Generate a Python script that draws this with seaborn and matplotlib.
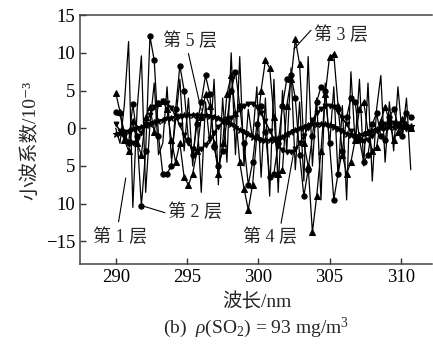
import matplotlib
matplotlib.use("Agg")
import matplotlib.pyplot as plt
import seaborn as sns

# wavelength grid (nm)
wavelength = [290.0, 290.3, 290.6, 290.9, 291.2, 291.5, 291.8, 292.1, 292.4, 292.7,
              293.0, 293.3, 293.6, 293.9, 294.2, 294.5, 294.8, 295.1, 295.4, 295.7,
              296.0, 296.3, 296.6, 296.9, 297.2, 297.5, 297.8, 298.1, 298.4, 298.7,
              299.0, 299.3, 299.6, 299.9, 300.2, 300.5, 300.8, 301.1, 301.4, 301.7,
              302.0, 302.3, 302.6, 302.9, 303.2, 303.5, 303.8, 304.1, 304.4, 304.7,
              305.0, 305.3, 305.6, 305.9, 306.2, 306.5, 306.8, 307.1, 307.4, 307.7,
              308.0, 308.3, 308.6, 308.9, 309.2, 309.5, 309.8, 310.1, 310.4, 310.7]

layer1 = [0.0, -2.0, 3.0, 11.5, -10.5, 2.5, 9.6, -8.5, 0.5, 6.0,
          -3.5, -2.0, 5.5, -4.0, 1.0, 6.5, -3.0, 4.0, -5.0, 2.0,
          -8.5, 3.5, -2.0, 6.5, -7.5, 4.0, -4.5, 10.0, -3.5, 9.5,
          -5.0, 2.5, -1.5, 5.5, -6.5, 4.0, -9.0, 6.5, -8.5, 5.0,
          -3.0, 8.0, -5.5, 3.5, -7.0, 9.5, -5.0, 4.0, -9.5, 6.0,
          -2.5, 5.5, -6.5, 3.0, -9.5, 7.5, -2.0, 6.5, -5.0, 6.0,
          -7.0, 2.5, 7.0, -4.5, 3.5, -3.0, 5.5, -1.0, 4.0, -5.5]

layer2 = [2.2, 2.0, -0.5, -2.0, 3.2, -1.0, -10.3, -3.0, 12.2, 9.0,
          -1.0, -6.0, -6.0, -5.0, 2.5, 8.3, 5.0, -1.5, -3.5, 0.5,
          3.5, 7.0, 4.5, -2.5, -5.0, -3.0, 1.0, 5.0, 7.5, 3.0,
          -2.0, -7.5, -4.5, 0.5, 3.0, -0.5, -6.5, -6.0, -2.0, 3.0,
          6.5, 7.0, 4.0, -3.5, -9.0, -5.5, -1.0, 3.5, 5.5, 5.0,
          -2.0, -9.5, -6.0, -3.0, 1.5, 4.0, 3.5, -1.5, -4.5, -3.5,
          0.5, 2.0, -1.0, -1.5, 1.5, 2.5, 0.5, -1.0, 2.0, 1.5]

layer3 = [4.7, 2.2, -1.5, -3.0, 1.0, -2.0, -3.5, 1.5, 2.8, -0.5,
          3.3, 3.6, 2.5, -1.5, -4.5, -2.0, -6.5, -7.5, -6.0, -3.0,
          1.5, 4.5, 3.0, -2.0, -6.0, -2.0, 4.5, 7.0, 2.0, -4.5,
          -8.0, -10.8, -7.5, -1.0, 5.0, 9.0, 8.0, 1.5, -6.0, -5.5,
          3.0, 6.5, 11.8, 8.5, -2.0, -5.0, -13.8, -9.0, -3.0, 4.5,
          9.5, 9.8, 3.0, -3.5, -6.0, -4.5, -1.5, 2.5, 3.5, -0.5,
          -3.0, -2.5, 1.0, 2.8, 1.0, -1.5, -0.5, 1.2, 0.5, 0.0]

layer4 = [0.5, -0.3, -1.2, -1.8, -2.0, -1.6, -0.6, 0.6, 1.8, 2.8,
          3.4, 3.6, 3.4, 2.7, 1.6, 0.4, -0.9, -2.0, -2.7, -3.0,
          -2.8, -2.2, -1.4, -0.6, 0.2, 0.8, 1.2, 1.4, 1.8, 2.4,
          2.9, 3.2, 3.2, 2.8, 2.0, 0.9, -0.3, -1.4, -2.3, -2.9,
          -3.2, -3.2, -2.8, -2.0, -1.0, 0.1, 1.1, 2.0, 2.6, 2.9,
          3.0, 2.8, 2.2, 1.4, 0.5, -0.4, -1.1, -1.6, -1.7, -1.5,
          -1.0, -0.4, 0.2, 0.6, 0.8, 0.7, 0.4, 0.1, -0.1, 0.0]

layer5 = [-0.8, -0.6, -0.5, -0.3, -0.1, 0.0, 0.2, 0.4, 0.6, 0.8,
          1.0, 1.1, 1.3, 1.4, 1.5, 1.6, 1.7, 1.7, 1.8, 1.8,
          1.7, 1.7, 1.6, 1.5, 1.3, 1.1, 0.8, 0.5, 0.2, -0.2,
          -0.5, -0.8, -1.1, -1.3, -1.5, -1.6, -1.6, -1.5, -1.3, -1.1,
          -0.8, -0.5, -0.2, 0.0, 0.2, 0.4, 0.5, 0.6, 0.6, 0.5,
          0.4, 0.2, -0.1, -0.4, -0.7, -0.9, -1.0, -0.9, -0.7, -0.5,
          -0.3, -0.1, 0.0, 0.1, 0.2, 0.2, 0.3, 0.3, 0.3, 0.3]

x_ticks = [290, 295, 300, 305, 310]
y_ticks = [-15, -10, -5, 0, 5, 10, 15]
y_tick_labels = ["\u221215", "10", "5", "0", "5", "10", "15"]

sns.set_style("ticks")
plt.rcParams["font.family"] = ["Liberation Serif", "DejaVu Serif", "Noto Sans CJK SC"]
plt.rcParams["mathtext.fontset"] = "custom"
plt.rcParams["mathtext.rm"] = "Liberation Serif"
plt.rcParams["mathtext.it"] = "Liberation Serif:italic"
plt.rcParams["axes.unicode_minus"] = True

fig = plt.figure(figsize=(4.33, 3.52), dpi=100)
ax = fig.add_axes([0.185, 0.25, 0.813, 0.707])

sns.lineplot(x=wavelength, y=layer1, color="black", lw=0.9, ax=ax)
sns.lineplot(x=wavelength, y=layer2, color="black", lw=0.9, marker="o",
             markersize=3.8, markeredgecolor="black", ax=ax)
sns.lineplot(x=wavelength, y=layer3, color="black", lw=0.9, marker="^",
             markersize=4, markeredgecolor="black", ax=ax)
sns.lineplot(x=wavelength, y=layer4, color="black", lw=1.0, marker="v",
             markersize=3.5, markeredgecolor="black", ax=ax)
sns.lineplot(x=wavelength, y=layer5, color="black", lw=1.8, marker="*",
             markersize=4.5, markeredgecolor="black", ax=ax)

ax.set_xlim(287.5, 312.2)
ax.set_ylim(-18, 15)
ax.set_xticks(x_ticks)
ax.set_yticks(y_ticks)
ax.set_yticklabels(y_tick_labels)
ax.tick_params(direction="in", labelsize=13.5, length=4, width=1, colors="#333333",
               labelcolor="black")
for side in ["left", "bottom", "top"]:
    ax.spines[side].set_visible(True)
    ax.spines[side].set_linewidth(1.1)
    ax.spines[side].set_color("#444444")
ax.spines["right"].set_visible(False)
ax.set_xlabel("")
ax.set_ylabel("")

# layer labels with pointer lines
fs = 13
line_props = dict(arrowstyle="-", lw=0.8, color="black", shrinkA=0, shrinkB=0)
ax.annotate("", xy=(296.0, 2.4), xytext=(295.1, 9.9), arrowprops=line_props)
ax.text(293.3, 11.6, "第 5 层", fontsize=fs, va="center", ha="left")
ax.annotate("", xy=(302.5, 10.5), xytext=(303.7, 13.0), arrowprops=line_props)
ax.text(303.9, 12.4, "第 3 层", fontsize=fs, va="center", ha="left")
ax.annotate("", xy=(291.9, -10.3), xytext=(293.45, -11.2), arrowprops=line_props)
ax.text(293.7, -11.1, "第 2 层", fontsize=fs, va="center", ha="left")
ax.annotate("", xy=(290.7, -6.6), xytext=(290.2, -12.4), arrowprops=line_props)
ax.text(288.4, -14.5, "第 1 层", fontsize=fs, va="center", ha="left")
ax.annotate("", xy=(302.5, -3.0), xytext=(301.6, -12.6), arrowprops=line_props)
ax.text(298.9, -14.5, "第 4 层", fontsize=fs, va="center", ha="left")

fig.text(30 / 433, 1 - 140 / 352, "小波系数/10\u207b\u00b3", rotation=90,
         fontsize=14, ha="center", va="center")
fig.text(257 / 433, 1 - 302 / 352, "波长/nm", fontsize=14,
         ha="center", va="center")
fig.text(256 / 433, 1 - 328 / 352, r"(b)  $\it{\rho}$(SO$_2$) = 93 mg/m$^3$",
         fontsize=14, ha="center", va="center")

fig.savefig("out.png", dpi=100)
